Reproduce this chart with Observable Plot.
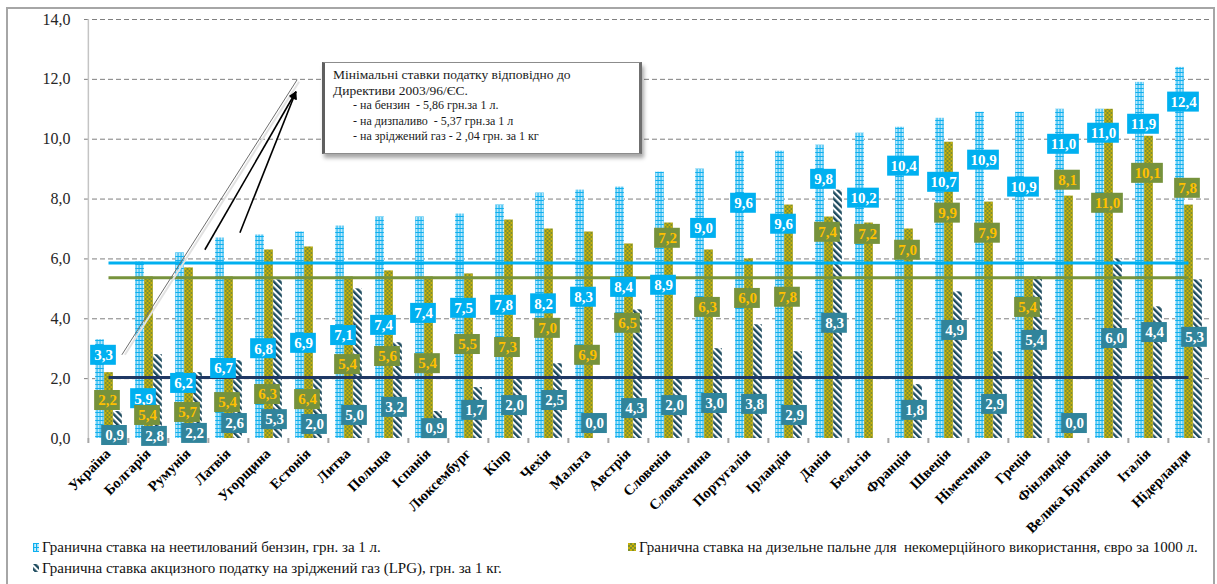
<!DOCTYPE html>
<html>
<head>
<meta charset="utf-8">
<script src="https://cdn.jsdelivr.net/npm/d3@7"></script>
<script src="https://cdn.jsdelivr.net/npm/@observablehq/plot@0.6"></script>
<style>
  body { margin: 0; background: #fff; }
  #wrap { position: relative; width: 1217px; height: 584px; overflow: hidden;
          font-family: "Liberation Serif", "Times New Roman", serif; color: #000; }
  #frame { position: absolute; left: 6px; top: 7px; width: 1205px; height: 620px;
           border: 2px solid #a6a6a6; }
  #chart { position: absolute; left: 0; top: 0; }
  #note { position: absolute; left: 322px; top: 62px; width: 306px; height: 86px;
          background: #fff; border: 1px solid #8c8c8c; border-left: 3px solid #5f5f5f;
          border-right: 3px solid #6f6f6f;
          box-shadow: 2px 4px 4px rgba(0,0,0,0.35); padding: 4px 0 0 8px; color: #1a1a1a; }
  #note .head { font-size: 13.5px; line-height: 15.5px; }
  #note .item { font-size: 12px; line-height: 15.5px; padding-left: 20px; white-space: pre; }
  #legend { position: absolute; left: 0; top: 538px; width: 1217px; height: 46px; }
  .lg { position: absolute; display: flex; align-items: center; font-size: 15px;
        line-height: 18px; white-space: pre; color: #111; }
  .lg svg { margin-right: 3px; }
</style>
</head>
<body>
<div id="wrap">
  <div id="frame"></div>
  <svg width="0" height="0" style="position:absolute">
    <defs>
      <pattern id="pat-petrol" patternUnits="userSpaceOnUse" width="3" height="4">
        <rect width="3" height="4" fill="#cdeefb"></rect>
        <rect width="1.2" height="4" fill="#0fb0ef"></rect>
        <rect width="3" height="1" fill="#0fb0ef"></rect>
      </pattern>
      <pattern id="pat-diesel" patternUnits="userSpaceOnUse" width="4" height="4">
        <rect width="4" height="4" fill="#7d8f2c"></rect>
        <rect width="2" height="2" fill="#c7b10c"></rect>
        <rect x="2" y="2" width="2" height="2" fill="#c7b10c"></rect>
      </pattern>
      <pattern id="pat-lpg" patternUnits="userSpaceOnUse" width="4.5" height="4.5" patternTransform="rotate(-45)">
        <rect width="4.5" height="4.5" fill="#ffffff"></rect>
        <rect width="2.4" height="4.5" fill="#1c4a5e"></rect>
      </pattern>
      <marker id="tip" viewBox="0 0 10 10" refX="9" refY="5" markerWidth="7" markerHeight="5" orient="auto">
        <path d="M0,0 L10,5 L0,10 z" fill="#000"></path>
      </marker>
    </defs>
  </svg>
  <div id="chart"></div>
  <div id="note">
    <div class="head">Мінімальні ставки податку відповідно до</div>
    <div class="head">Директиви 2003/96/ЄС.</div>
    <div class="item">- на бензин  - 5,86 грн.за 1 л.</div>
    <div class="item">- на дизпаливо  - 5,37 грн.за 1 л</div>
    <div class="item">- на зріджений газ - 2 ,04 грн. за 1 кг</div>
  </div>
  <div id="legend"></div>
</div>
<script>
// Excise tax rates by country (EU members and Ukraine)
const countries = ["Україна", "Болгарія", "Румунія", "Латвія", "Угорщина", "Естонія", "Литва",
  "Польща", "Іспанія", "Люксембург", "Кіпр", "Чехія", "Мальта", "Австрія", "Словенія",
  "Словаччина", "Португалія", "Ірландія", "Данія", "Бельгія", "Франція", "Швеція",
  "Німеччина", "Греція", "Фінляндія", "Велика Британія", "Італія", "Нідерланди"];

// unleaded petrol, UAH per litre
const petrol = [3.3, 5.9, 6.2, 6.7, 6.8, 6.9, 7.1, 7.4, 7.4, 7.5, 7.8, 8.2, 8.3, 8.4, 8.9,
  9.0, 9.6, 9.6, 9.8, 10.2, 10.4, 10.7, 10.9, 10.9, 11.0, 11.0, 11.9, 12.4];
// diesel for non-commercial use
const diesel = [2.2, 5.4, 5.7, 5.4, 6.3, 6.4, 5.4, 5.6, 5.4, 5.5, 7.3, 7.0, 6.9, 6.5, 7.2,
  6.3, 6.0, 7.8, 7.4, 7.2, 7.0, 9.9, 7.9, 5.4, 8.1, 11.0, 10.1, 7.8];
// liquefied petroleum gas, UAH per kg (no figure for Belgium)
const lpg = [0.9, 2.8, 2.2, 2.6, 5.3, 2.0, 5.0, 3.2, 0.9, 1.7, 2.0, 2.5, 0.0, 4.3, 2.0,
  3.0, 3.8, 2.9, 8.3, null, 1.8, 4.9, 2.9, 5.4, 0.0, 6.0, 4.4, 5.3];

// where each value tag sits on the value axis
const petrolTagY = [2.78, 1.33, 1.84, 2.34, 3.0, 3.18, 3.44, 3.78, 4.18, 4.35, 4.45, 4.5, 4.72, 5.05,
  5.12, 7.02, 7.86, 7.16, 8.66, 8.03, 9.1, 8.56, 9.3, 8.4, 9.83, 10.2, 10.5, 11.24];
const dieselTagY = [1.27, 0.77, 0.87, 1.2, 1.47, 1.3, 2.47, 2.74, 2.5, 3.14, 3.04, 3.68, 2.78, 3.85,
  6.69, 4.38, 4.68, 4.72, 6.89, 6.82, 6.29, 7.53, 6.86, 4.38, 8.63, 7.86, 8.86, 8.36];
const lpgTagY = [0.1, 0.07, 0.17, 0.5, 0.63, 0.47, 0.77, 1.04, 0.33, 0.94, 1.1, 1.27, 0.5, 1.0,
  1.1, 1.17, 1.14, 0.77, 3.85, null, 0.94, 3.61, 1.14, 3.28, 0.5, 3.34, 3.54, 3.38];

// Directive 2003/96/EC minimum rates: petrol, diesel, LPG
const minimumRates = [5.86, 5.37, 2.04];
const yTicks = [0, 2, 4, 6, 8, 10, 12, 14];

const seriesLabels = [
  "Гранична ставка на неетилований бензин, грн. за 1 л.",
  "Гранична ставка на дизельне пальне для  некомерційного використання, євро за 1000 л.",
  "Гранична ставка акцизного податку на зріджений газ (LPG), грн. за 1 кг."
];

const fmt = v => v.toFixed(1).replace(".", ",");
const serif = "\"Liberation Serif\", \"Times New Roman\", serif";

const W = 1217, H = 538, mL = 84, mR = 5, mT = 19, mB = 100;
const bandW = (W - mL - mR) / countries.length;
const unitPx = (H - mT - mB) / 14;

const rows = countries.map((country, i) => ({
  country,
  petrol: petrol[i], diesel: diesel[i], lpg: lpg[i],
  petrolTag: petrolTagY[i], dieselTag: dieselTagY[i], lpgTag: lpgTagY[i]
}));

const barW = 9;
const barInset = (bandW - barW) / 2;
const bars = (key, fill, dx) =>
  Plot.barY(rows.filter(d => d[key] != null), {
    x: "country", y: key, fill, insetLeft: barInset, insetRight: barInset, dx
  });

const tagHalf = 10 / unitPx;
function tags(key, tagKey, box, ink, dx) {
  const data = rows.filter(d => d[key] != null);
  const boxMark = (subset, w) => Plot.barY(subset, {
    x: "country",
    y1: d => d[tagKey] - tagHalf,
    y2: d => d[tagKey] + tagHalf,
    fill: box, insetLeft: (bandW - w) / 2, insetRight: (bandW - w) / 2, dx
  });
  return [
    boxMark(data.filter(d => d[key] < 10), 26),
    boxMark(data.filter(d => d[key] >= 10), 32),
    Plot.text(data, {
      x: "country", y: tagKey, text: d => fmt(d[key]), fill: ink, dx,
      fontSize: 15, fontWeight: "bold", fontFamily: serif
    })
  ];
}

const minLine = (value, stroke) => Plot.link([value], {
  x1: () => countries[0], x2: () => countries[countries.length - 1],
  y1: d => d, y2: d => d, stroke, strokeWidth: 3
});

const chart = Plot.plot({
  width: W, height: H,
  marginLeft: mL, marginRight: mR, marginTop: mT, marginBottom: mB,
  style: { fontFamily: serif, fontSize: "16px", color: "#262626", background: "transparent", overflow: "visible" },
  x: { domain: countries, padding: 0, axis: null },
  y: { domain: [0, 14], ticks: yTicks, tickFormat: fmt, tickSize: 0, tickPadding: 14, label: null },
  marks: [
    Plot.ruleY(yTicks.filter(t => t > 0), { stroke: "#7f7f7f", strokeDasharray: "5,3", strokeWidth: 1 }),
    Plot.ruleX([countries[0]], { dx: -bandW / 2, y1: 0, y2: 14, stroke: "#c4c4c4", strokeWidth: 1.5 }),
    Plot.ruleX(countries, { x: d => d, dx: -bandW / 2, y1: 0, y2: -5 / unitPx, stroke: "#a6a6a6", strokeWidth: 2 }),
    Plot.ruleX([countries[countries.length - 1]], { x: d => d, dx: bandW / 2, y1: 0, y2: -5 / unitPx, stroke: "#a6a6a6", strokeWidth: 2 }),
    bars("petrol", "url(#pat-petrol)", -8.5),
    bars("diesel", "url(#pat-diesel)", 0.5),
    bars("lpg", "url(#pat-lpg)", 9.5),
    minLine(minimumRates[0], "#00b0f0"),
    minLine(minimumRates[1], "#77933c"),
    minLine(minimumRates[2], "#1f3864"),
    ...tags("petrol", "petrolTag", "#00b0f0", "#ffffff", -5),
    ...tags("diesel", "dieselTag", "#76923c", "#ffc000", -1),
    ...tags("lpg", "lpgTag", "#31849b", "#ffffff", 6),
    Plot.text(countries, {
      x: d => d, frameAnchor: "bottom", dx: 3, dy: 16, rotate: -45, textAnchor: "end",
      fontSize: 14.5, fontWeight: "bold", fontFamily: serif, fill: "#000"
    })
  ]
});
document.getElementById("chart").append(chart);

// callout pointers from the note box, in (band index, value) units
const pointers = [
  { from: [4.79, 11.97], to: [0.44, 2.78], arrow: false },
  { from: [2.5, 6.29], to: [4.76, 11.57], arrow: true },
  { from: [3.37, 6.86], to: [4.76, 11.57], arrow: true }
];
const sx = chart.scale("x"), sy = chart.scale("y");
const px = t => sx.range[0] + (t + 0.5) * (sx.range[1] - sx.range[0]) / countries.length;
const py = v => sy.range[0] + (v - sy.domain[0]) / (sy.domain[1] - sy.domain[0]) * (sy.range[1] - sy.range[0]);
const overlay = d3.select(chart).append("g");
for (const p of pointers) {
  if (!p.arrow) {
    overlay.append("line")
      .attr("x1", px(p.from[0]) + 2).attr("y1", py(p.from[1]) + 2)
      .attr("x2", px(p.to[0]) + 3).attr("y2", py(p.to[1]))
      .attr("stroke", "#e2e2e2").attr("stroke-width", 2);
  }
  overlay.append("line")
    .attr("x1", px(p.from[0])).attr("y1", py(p.from[1]))
    .attr("x2", px(p.to[0])).attr("y2", py(p.to[1]))
    .attr("stroke", p.arrow ? "#000" : "#6e6e6e")
    .attr("stroke-width", p.arrow ? 1.6 : 1)
    .attr("marker-end", p.arrow ? "url(#tip)" : null);
}

// legend
const legend = d3.select("#legend");
const legendItems = [
  { label: seriesLabels[0], pat: "pat-petrol", left: 33, top: 0, w: 6, h: 9 },
  { label: seriesLabels[1], pat: "pat-diesel", left: 628, top: 0, w: 8, h: 8 },
  { label: seriesLabels[2], pat: "pat-lpg", left: 33, top: 21, w: 6, h: 8 }
];
for (const it of legendItems) {
  const item = legend.append("div").attr("class", "lg")
    .style("left", it.left + "px").style("top", it.top + "px");
  const sw = item.append("svg").attr("width", it.w).attr("height", it.h);
  sw.append("rect").attr("width", it.w).attr("height", it.h).attr("fill", `url(#${it.pat})`);
  item.append("span").text(it.label);
}
</script>
</body>
</html>
